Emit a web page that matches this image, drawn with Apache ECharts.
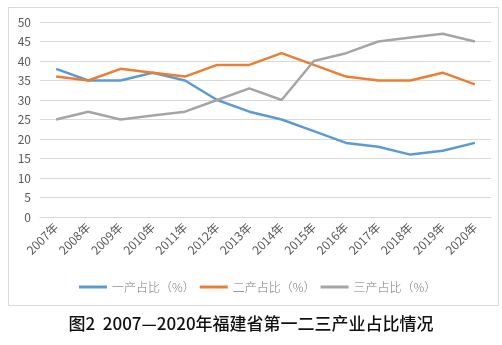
<!DOCTYPE html>
<html>
<head>
<meta charset="utf-8">
<script src="https://cdn.jsdelivr.net/npm/echarts@6/dist/echarts.min.js"></script>
<style>
html,body{margin:0;padding:0;background:#fff;}
#c{width:502px;height:345px;}
</style>
</head>
<body>
<div id="c"></div>
<script>
const years = ['2007年','2008年','2009年','2010年','2011年','2012年','2013年','2014年','2015年','2016年','2017年','2018年','2019年','2020年'];
const primary = [38,35,35,37,35,30,27,25,22,19,18,16,17,19];
const secondary = [36,35,38,37,36,39,39,42,39,36,35,35,37,34];
const tertiary = [25,27,25,26,27,30,33,30,40,42,45,46,47,45];
const seriesNames = ['一产占比（%）','二产占比（%）','三产占比（%）'];
const titleText = '图2  2007—2020年福建省第一二三产业占比情况';

const font = '"Microsoft YaHei","Noto Sans CJK SC","Noto Sans",sans-serif';
const chart = echarts.init(document.getElementById('c'), null, {renderer:'canvas'});
const mk = (name, data, color) => ({
  name, type:'line', data, symbol:'none', smooth:false,
  lineStyle:{width:2.5, color}, itemStyle:{color}
});
chart.setOption({
  animation:false,
  backgroundColor:'#fff',
  graphic:[{type:'rect', shape:{x:8.5,y:7.5,width:490,height:298}, style:{fill:'none', stroke:'#D9D9D9', lineWidth:1}, z:-1}],
  title:{text:titleText, left:'center', top:310, textStyle:{fontFamily:font, fontSize:17, fontWeight:500, color:'#111'}},
  legend:{bottom:47, left:74, itemWidth:28, itemHeight:3, itemGap:5, icon:'rect',
    textStyle:{fontFamily:font, fontSize:12, fontWeight:300, color:'#7a7a7a'}},
  grid:{left:40, right:11, top:22, bottom:128, containLabel:false},
  xAxis:{type:'category', data:years, boundaryGap:true,
    axisLine:{show:true, lineStyle:{color:'#D9D9D9'}}, axisTick:{show:false},
    axisLabel:{rotate:45, fontFamily:font, fontSize:12, color:'#595959', margin:8, interval:0}},
  yAxis:{type:'value', min:0, max:50, interval:5,
    axisLine:{show:false}, axisTick:{show:false},
    splitLine:{lineStyle:{color:'#D9D9D9'}},
    axisLabel:{fontFamily:font, fontSize:12, color:'#595959', margin:9}},
  series:[mk(seriesNames[0], primary, '#5B9BD5'), mk(seriesNames[1], secondary, '#ED7D31'), mk(seriesNames[2], tertiary, '#A5A5A5')]
});
</script>
</body>
</html>
